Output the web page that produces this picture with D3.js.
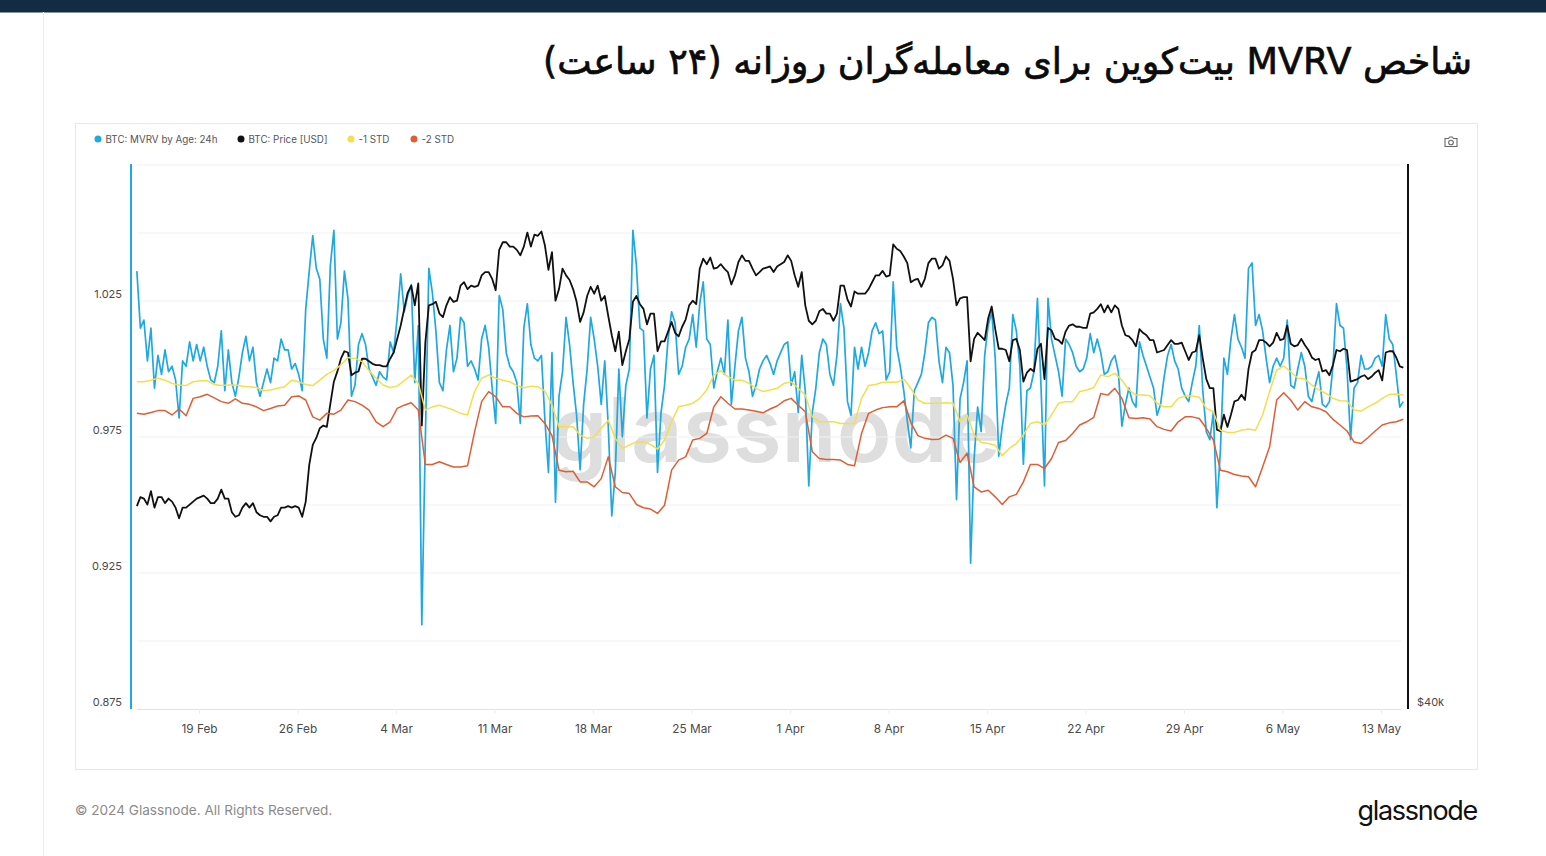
<!DOCTYPE html>
<html>
<head>
<meta charset="utf-8">
<script src="https://d3js.org/d3.v7.min.js"></script>
<style>
  html, body { margin: 0; background: #fff; }
  svg { display: block; }
  text { font-family: Inter, "Noto Sans", sans-serif; }
  .grid line { stroke: #f2f2f2; stroke-width: 1.2px; }
  .series { fill: none; stroke-linejoin: round; }
  .tick text { fill: #4a4a4a; }
</style>
</head>
<body>
<div id="chart"></div>
<script>
const titleText = "\u0634\u0627\u062e\u0635 MVRV \u0628\u06cc\u062a\u200c\u06a9\u0648\u06cc\u0646 \u0628\u0631\u0627\u06cc \u0645\u0639\u0627\u0645\u0644\u0647\u200c\u06af\u0631\u0627\u0646 \u0631\u0648\u0632\u0627\u0646\u0647 (\u06f2\u06f4 \u0633\u0627\u0639\u062a)";
const legendLabels = ["BTC: MVRV by Age: 24h", "BTC: Price [USD]", "-1 STD", "-2 STD"];

// first sample of every series, 14 Feb 2024 14:00 utc
const seriesStart = Date.UTC(2024, 1, 14, 14);
const hour = 3600 * 1000;

const xTickDates = [[1,19],[1,26],[2,4],[2,11],[2,18],[2,25],[3,1],[3,8],[3,15],[3,22],[3,29],[4,6],[4,13]];
const yTickValues = [0.875, 0.925, 0.975, 1.025];
const yGridValues = [0.9, 0.925, 0.95, 0.975, 1, 1.025, 1.05, 1.075];
const priceTickValues = [40];

// 6h samples
const mvrv = [
1.036,1.015,1.018,1.003,1.015,.993,1.005,.998,1.007,.999,
1.001,.996,.982,1.003,1.001,1.010,1.003,1.009,1.003,1.008,
1.001,.996,.995,1.001,1.014,.992,1.007,.995,.990,.997,
1.006,1.012,1.003,1.008,.995,.990,.995,1.000,.995,1.004,
1.003,1.011,1.007,1.007,1.000,1.002,.998,.992,1.022,1.036,
1.049,1.037,1.033,1.011,1.004,1.038,1.051,1.011,1.017,1.036,
1.026,.990,.994,1.009,1.013,1.009,1.000,.997,.994,.999,
.997,.996,1.010,1.006,1.019,1.035,1.021,1.027,1.031,.995,
1.016,.906,.974,1.037,1.028,1.014,.995,.992,1.007,1.016,
.999,1.004,1.019,1.017,1.001,1.003,1.000,.996,1.011,1.016,
1.008,.993,.980,1.027,1.022,1.006,1.001,.999,.995,.980,
1.015,1.024,1.009,1.004,1.003,1.005,.981,.962,1.006,.951,
.990,.999,1.019,1.009,.995,.983,.963,.987,1.000,1.019,
1.011,1.001,.987,1.003,.979,.946,.962,1.000,.975,.994,
1.000,1.051,1.038,1.015,1.014,.982,1.000,1.005,.962,.984,
.994,1.011,1.021,1.017,.998,1.001,1.008,1.011,1.020,1.008,
1.024,1.032,1.011,1.009,.993,.999,1.004,.998,1.018,.987,
1.001,1.014,1.019,1.004,.999,.990,.994,1.000,1.003,
1.005,1.002,.998,1.003,1.006,1.009,1.010,.994,.999,
.984,1.005,.992,.957,.984,.993,1.006,1.011,1.009,.998,
.994,1.005,1.024,1.015,.988,.983,1.008,1.000,1.008,1.001,
1.006,1.014,1.017,1.013,1.014,.996,.999,1.032,1.008,1.001,
.992,.981,.971,.992,.995,.998,1.006,1.017,1.019,1.018,
1.003,.995,1.008,1.006,.994,.952,.989,.995,1.003,.9286,
.967,.986,.977,1.005,1.016,1.021,1.004,.968,.979,.987,
.993,1.020,1.014,1.001,.965,.992,.993,.999,1.026,.994,
.957,1.026,1.011,1.005,.999,.990,1.011,1.009,1.006,1.001,.999,1.000,
1.004,1.013,1.006,1.011,1.006,.998,.999,1.003,1.005,.999,
.979,.987,.993,.988,.986,1.010,1.005,1.001,.997,.993,
.983,.987,.997,1.005,1.009,1.003,1.000,.993,.990,.988,
.995,1.001,1.016,.992,.977,.974,.984,.949,.970,1.004,
.998,1.011,1.020,1.011,1.008,1.004,1.037,1.039,1.016,1.020,
1.014,1.004,.995,1.001,1.004,1.001,1.004,1.018,.994,.993,
1.000,1.006,1.001,.990,.988,.994,.999,.987,.986,.988,
1.001,1.024,1.016,1.015,1.000,.974,.993,.995,1.005,1.000,
1.000,1.001,1.004,1.005,1.001,1.020,1.011,1.009,.998,.986,.988];

// 6h samples, thousands of usd
const priceK = [
51.8,52.4,52.3,51.9,52.8,51.7,52.4,52.4,52.0,52.3,
52.1,51.7,51.0,51.7,51.7,51.9,52.1,52.3,52.4,52.5,
52.3,52.0,52.0,52.3,52.9,52.3,52.3,51.4,51.1,51.2,
51.7,52.0,51.7,52.0,51.4,51.2,51.1,51.1,50.8,51.1,
51.2,51.7,51.7,51.8,51.7,51.8,51.7,51.1,52.1,54.6,
56.0,56.5,57.2,57.4,57.3,59.0,60.7,61.5,62.5,63.1,
63.0,61.2,61.4,61.5,62.5,62.5,62.3,62.1,62.0,62.0,
61.9,61.9,62.5,63.0,64.1,65.2,66.6,68.0,68.6,66.9,
68.8,57.4,63.8,66.9,67.0,67.2,66.2,65.9,66.9,67.6,
67.2,67.3,68.6,68.9,68.3,68.6,68.5,68.6,69.5,69.8,
69.8,69.2,68.2,71.8,72.5,72.5,72.1,72.1,71.8,71.3,
72.1,73.4,72.1,73.2,73.1,73.5,72.2,70.0,71.6,67.3,
68.3,70.1,69.5,69.1,68.3,67.2,65.5,66.3,67.7,68.5,
67.9,68.6,67.3,67.7,66.0,64.4,63.1,64.7,62.0,63.1,
64.1,67.2,67.7,67.0,66.6,65.3,66.2,66.2,63.1,63.9,
63.9,64.7,65.5,64.6,64.3,65.1,65.7,66.9,67.3,67.0,
70.1,71.0,70.5,71.1,70.1,70.2,70.5,70.1,69.8,68.7,
69.5,70.7,71.3,70.8,70.8,70.1,69.5,69.8,70.1,
70.2,70.3,69.8,70.3,70.5,70.7,71.3,70.8,69.5,
68.5,69.8,66.9,65.6,65.3,65.6,66.4,66.6,66.2,66.2,
65.6,66.2,68.6,68.6,67.4,66.8,68.1,67.9,67.9,67.9,
68.3,68.9,69.5,69.5,69.9,69.4,69.5,72.3,71.9,71.7,
71.2,70.6,68.9,69.1,69.2,68.5,69.2,70.6,71.0,71.0,
70.1,70.4,71.2,70.8,69.2,66.9,67.5,67.6,67.6,62.3,
64.1,64.6,64.3,64.0,65.8,66.8,64.9,63.3,63.3,63.2,
62.3,64.0,64.1,63.2,60.7,61.4,61.7,61.5,63.3,63.7,
60.9,65.0,64.8,64.1,64.0,63.7,64.7,65.2,65.3,65.1,65.1,65.0,
65.0,66.2,66.3,66.6,67.0,66.3,66.9,66.3,66.9,66.6,
65.2,64.4,64.3,64.0,63.5,64.9,64.6,64.4,64.0,64.0,
63.0,63.1,63.2,63.6,64.0,63.7,63.7,63.8,63.1,62.4,
63.0,63.1,64.4,62.5,60.9,60.2,60.2,57.1,57.0,58.2,
57.3,58.2,59.2,59.3,59.7,59.3,61.7,63.0,63.2,64.0,
64.0,63.8,63.5,63.8,64.6,64.0,64.1,65.2,63.7,63.5,
63.6,64.1,63.6,63.2,62.6,62.4,62.5,61.5,61.6,61.2,
62.0,63.2,63.1,63.3,63.2,60.7,60.8,60.9,61.1,61.2,
60.9,61.1,61.4,61.6,60.8,63.0,63.1,63.1,62.6,61.9,61.8];

// 12h samples
const minusOneStd = [
.9953,.9953,.9959,.9966,.9959,.9947,.9941,.9939,.9953,.9957,
.9957,.9943,.9939,.9941,.9941,.9937,.9935,.9932,.9920,.9923,
.9929,.9935,.9959,.9953,.9943,.9939,.9959,.9980,.9994,1.0015,
1.0042,1.0039,1.0027,.9994,.9966,.9941,.9932,.9937,.9957,.9978,
.9947,.9849,.9861,.9867,.9858,.9849,.9837,.9831,.9917,.9966,
.9978,.9966,.9959,.9953,.9939,.9931,.9937,.9935,.9919,.9867,
.9788,.9788,.9788,.9757,.9745,.9751,.9782,.9812,.9745,.9708,
.9720,.9732,.9732,.9723,.9705,.9739,.9806,.9861,.9867,.9874,
.9892,.9923,.9978,.9993,.9972,.9959,.9959,.9947,.9929,.9917,
.9923,.9929,.9947,.9953,.9929,.9904,.9824,.9806,.9806,
.9806,.9800,.9800,.9800,.9892,.9939,.9943,.9951,.9951,.9951,
.9963,.9929,.9886,.9874,.9874,.9874,.9876,.9874,.9806,.9831,
.9757,.9730,.9726,.9720,.9681,.9708,.9726,.9757,.9800,.9806,
.9794,.9831,.9874,.9880,.9880,.9917,.9923,.9932,.9978,.9972,.9984,
.9959,.9923,.9904,.9904,.9902,.9874,.9861,.9861,.9892,.9901,
.9901,.9896,.9855,.9843,.9775,.9767,.9767,.9775,.9779,.9775,
.9831,.9917,.9996,1.0011,.9990,.9966,.9963,.9941,.9923,.9910,
.9892,.9883,.9882,.9849,.9845,.9861,.9874,.9892,.9907,.9907,.9904];

// 12h samples
const minusTwoStd = [
.9837,.9834,.9840,.9847,.9847,.9831,.9853,.9828,.9892,.9898,
.9907,.9894,.9880,.9874,.9890,.9874,.9870,.9861,.9847,.9855,
.9864,.9867,.9898,.9901,.9886,.9824,.9812,.9837,.9834,.9849,
.9886,.9880,.9867,.9849,.9806,.9788,.9806,.9855,.9867,.9876,
.9849,.9649,.9649,.9659,.9649,.9640,.9640,.9644,.9769,.9880,
.9917,.9898,.9861,.9861,.9837,.9824,.9827,.9828,.9800,.9755,
.9628,.9622,.9624,.9585,.9585,.9567,.9597,.9677,.9567,.9546,
.9542,.9502,.9490,.9485,.9469,.9499,.9628,.9665,.9677,.9739,
.9745,.9763,.9861,.9898,.9874,.9853,.9853,.9849,.9845,.9839,
.9853,.9864,.9883,.9892,.9867,.9843,.9696,.9671,.9667,
.9667,.9665,.9649,.9644,.9763,.9837,.9849,.9858,.9861,.9861,
.9883,.9804,.9755,.9745,.9741,.9742,.9757,.9745,.9656,.9690,
.9567,.9548,.9554,.9530,.9502,.9530,.9539,.9585,.9649,.9649,
.9634,.9671,.9730,.9737,.9763,.9794,.9806,.9822,.9910,.9904,.9929,
.9892,.9821,.9818,.9821,.9816,.9788,.9778,.9772,.9806,.9824,
.9824,.9818,.9782,.9739,.9628,.9622,.9612,.9607,.9604,.9567,
.9640,.9714,.9886,.9913,.9886,.9849,.9880,.9861,.9855,.9843,
.9815,.9794,.9772,.9732,.9726,.9748,.9772,.9794,.9802,.9806,.9815];

const width = 1546, height = 856;
const blue = "#1fa8e2", ink = "#111111", yellow = "#f3de4d", red = "#dc5f35";

const svg = d3.select("#chart").append("svg").attr("width", width).attr("height", height);

// page furniture
svg.append("rect").attr("width", width).attr("height", 12.5).attr("fill", "#132c44");
svg.append("line").attr("x1", 43.5).attr("x2", 43.5).attr("y1", 12).attr("y2", height).attr("stroke", "#ececec");
svg.append("rect").attr("x", 75.5).attr("y", 123.5).attr("width", 1402).attr("height", 646)
  .attr("fill", "#fff").attr("stroke", "#e9e9e9").attr("stroke-width", 1.2);

svg.append("text").text(titleText)
  .attr("x", 1472).attr("y", 74)
  .attr("direction", "rtl").attr("text-anchor", "start")
  .attr("fill", "#0b0b0b").attr("stroke", "#0b0b0b").attr("stroke-width", 0.7)
  .style("font-family", "'DejaVu Sans'").style("font-size", "36.5px");

svg.append("text").text("\u00a9 2024 Glassnode. All Rights Reserved.")
  .attr("x", 75).attr("y", 815).attr("fill", "#8b8b8b").style("font-size", "13.6px");
svg.append("text").text("glassnode")
  .attr("x", 1477).attr("y", 820).attr("text-anchor", "end").attr("fill", "#111")
  .style("font-size", "27px").style("letter-spacing", "-1.3px");

// scales
const x = d3.scaleUtc()
  .domain([Date.UTC(2024, 1, 14, 4), Date.UTC(2024, 4, 14, 22)])
  .range([131, 1408]);
const y = d3.scaleLinear().domain([0.875, 1.075]).range([709, 165]);
const yPrice = d3.scaleLog().domain([40, 80]).range([709, 165]);

// watermark
svg.append("text").text("glassnode")
  .attr("x", 776).attr("y", 462).attr("text-anchor", "middle")
  .attr("fill", "#dedede").style("font-size", "90px").style("font-weight", 600);

// grid
svg.append("g").attr("class", "grid").selectAll("line").data(yGridValues).join("line")
  .attr("x1", 137).attr("x2", 1401)
  .attr("y1", d => y(d)).attr("y2", d => y(d));

// axes
const dateFmt = d3.utcFormat("%-d %b");
const xAxis = svg.append("g").attr("transform", "translate(0,709)")
  .call(d3.axisBottom(x)
    .tickValues(xTickDates.map(d => new Date(Date.UTC(2024, d[0], d[1]))))
    .tickFormat(dateFmt).tickSize(5).tickPadding(11));
xAxis.select(".domain").attr("stroke", "#e2e2e2").attr("d", "M137,0.5H1401");
xAxis.selectAll(".tick line").attr("stroke", "#eeeeee");
xAxis.selectAll("text").style("font-size", "11.8px");

const yAxis = svg.append("g").attr("transform", "translate(131,0)")
  .call(d3.axisLeft(y).tickValues(yTickValues).tickFormat(d3.format(".3f")).tickSize(0).tickPadding(9));
yAxis.select(".domain").attr("stroke", blue).attr("stroke-width", 2).attr("d", "M0,164V709");
yAxis.selectAll("text").attr("dy", "-3.5px").style("font-size", "11px");

const priceAxis = svg.append("g").attr("transform", "translate(1408,0)")
  .call(d3.axisRight(yPrice).tickValues(priceTickValues).tickFormat(d => "$" + d + "k").tickSize(0).tickPadding(9));
priceAxis.select(".domain").attr("stroke", ink).attr("stroke-width", 2).attr("d", "M0,164V709");
priceAxis.selectAll("text").attr("dy", "-3.5px").style("font-size", "11px");

// series
function drawSeries(values, stepHours, yScale, color, strokeWidth) {
  const line = d3.line()
    .x((d, i) => x(seriesStart + i * stepHours * hour))
    .y(d => yScale(d));
  svg.append("path").datum(values).attr("class", "series")
    .attr("d", line).attr("stroke", color).attr("stroke-width", strokeWidth);
}
drawSeries(mvrv, 6, y, blue, 1.7);
drawSeries(priceK, 6, yPrice, ink, 1.8);
drawSeries(minusOneStd, 12, y, yellow, 1.5);
drawSeries(minusTwoStd, 12, y, red, 1.5);

// legend
const legendX = [98, 241, 351, 414];
const legendColors = [blue, ink, yellow, red];
const legend = svg.append("g").selectAll("g").data(legendLabels).join("g")
  .attr("transform", (d, i) => "translate(" + legendX[i] + ",139)");
legend.append("circle").attr("r", 3.5).attr("fill", (d, i) => legendColors[i]);
legend.append("text").text(d => d).attr("x", 7.5).attr("y", 3.6)
  .attr("fill", "#555").style("font-size", "9.8px");

// camera button
const cam = svg.append("g").attr("transform", "translate(1451,142)")
  .attr("fill", "none").attr("stroke", "#666").attr("stroke-width", 1.1);
cam.append("path").attr("d", "M-6,-3.5H-2.5L-1.3,-5H1.3L2.5,-3.5H6V4.5H-6Z");
cam.append("circle").attr("cy", 0.5).attr("r", 2.3);
</script>
</body>
</html>
